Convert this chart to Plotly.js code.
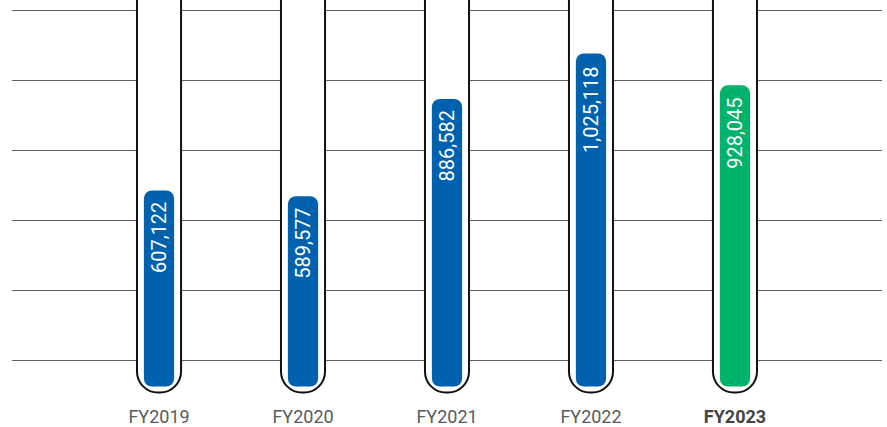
<!DOCTYPE html>
<html>
<head>
<meta charset="utf-8">
<script src="https://cdn.plot.ly/plotly-3.0.1.min.js"></script>
<style>html,body{margin:0;padding:0;background:#fff;}#chart{width:887px;height:427px;}</style>
</head>
<body>
<div id="chart"></div>
<script>
// ---- data ----
const categories = ["FY2019", "FY2020", "FY2021", "FY2022", "FY2023"];
const tickLabels = ["FY2019", "FY2020", "FY2021", "FY2022", "<b><span style='color:#444'>FY2023</span></b>"];
const values = [607122, 589577, 886582, 1025118, 928045];
const valueLabels = ["607,122", "589,577", "886,582", "1,025,118", "928,045"];
const barColors = ["#0062AE", "#0062AE", "#0062AE", "#0062AE", "#00B36B"];

// ---- scale helpers (styling) ----
const perPx = 3051;            // value units per pixel
const yMax = 389.5 * perPx;
const yMin = -10.5 * perPx;
const barBottom = 3 * perPx;    // inner bar bottom sits a little above tube bottom
const tubeBottom = -3 * perPx;
const tubeTop = 1400000;

const xIdx = categories.map((c, i) => i);

const tube = {
  type: 'bar', x: xIdx,
  base: values.map(() => tubeTop),
  y: values.map(() => tubeBottom - tubeTop),
  width: 0.306,
  marker: { color: '#ffffff', line: { color: '#111111', width: 2 }, cornerradius: 21 },
  hoverinfo: 'skip', showlegend: false
};
const inner = {
  type: 'bar', x: xIdx,
  base: values.map(() => barBottom),
  y: values.map(v => v - barBottom),
  width: 0.21,
  marker: { color: barColors, line: { width: 0 }, cornerradius: 8 },
  hoverinfo: 'skip', showlegend: false
};

const annotations = values.map((v, i) => ({
  x: i, y: v, xref: 'x', yref: 'y',
  text: valueLabels[i], showarrow: false,
  textangle: -90, yanchor: 'top', xanchor: 'center', yshift: -10,
  font: { family: 'Roboto, Arial, sans-serif', size: 20, color: '#ffffff' }
}));

const layout = {
  width: 887, height: 427,
  margin: { l: 12, r: 5, t: 0, b: 27 },
  paper_bgcolor: '#ffffff', plot_bgcolor: '#ffffff',
  barmode: 'overlay',
  showlegend: false,
  xaxis: {
    range: [-1.021, 5.021],
    tickvals: xIdx, ticktext: tickLabels,
    showgrid: false, zeroline: false, showline: false, ticks: '',
    ticklabelstandoff: 4,
    tickfont: { family: 'Roboto, Arial, sans-serif', size: 18, color: '#5a5a5a' },
    fixedrange: true
  },
  yaxis: {
    range: [yMin, yMax],
    tick0: 88479, dtick: 213570,
    showgrid: true, gridcolor: '#5f5f5f', gridwidth: 1,
    showticklabels: false, zeroline: false, showline: false, ticks: '',
    fixedrange: true
  },
  annotations: annotations
};

Plotly.newPlot('chart', [tube, inner], layout, { displayModeBar: false, staticPlot: true });
</script>
</body>
</html>
